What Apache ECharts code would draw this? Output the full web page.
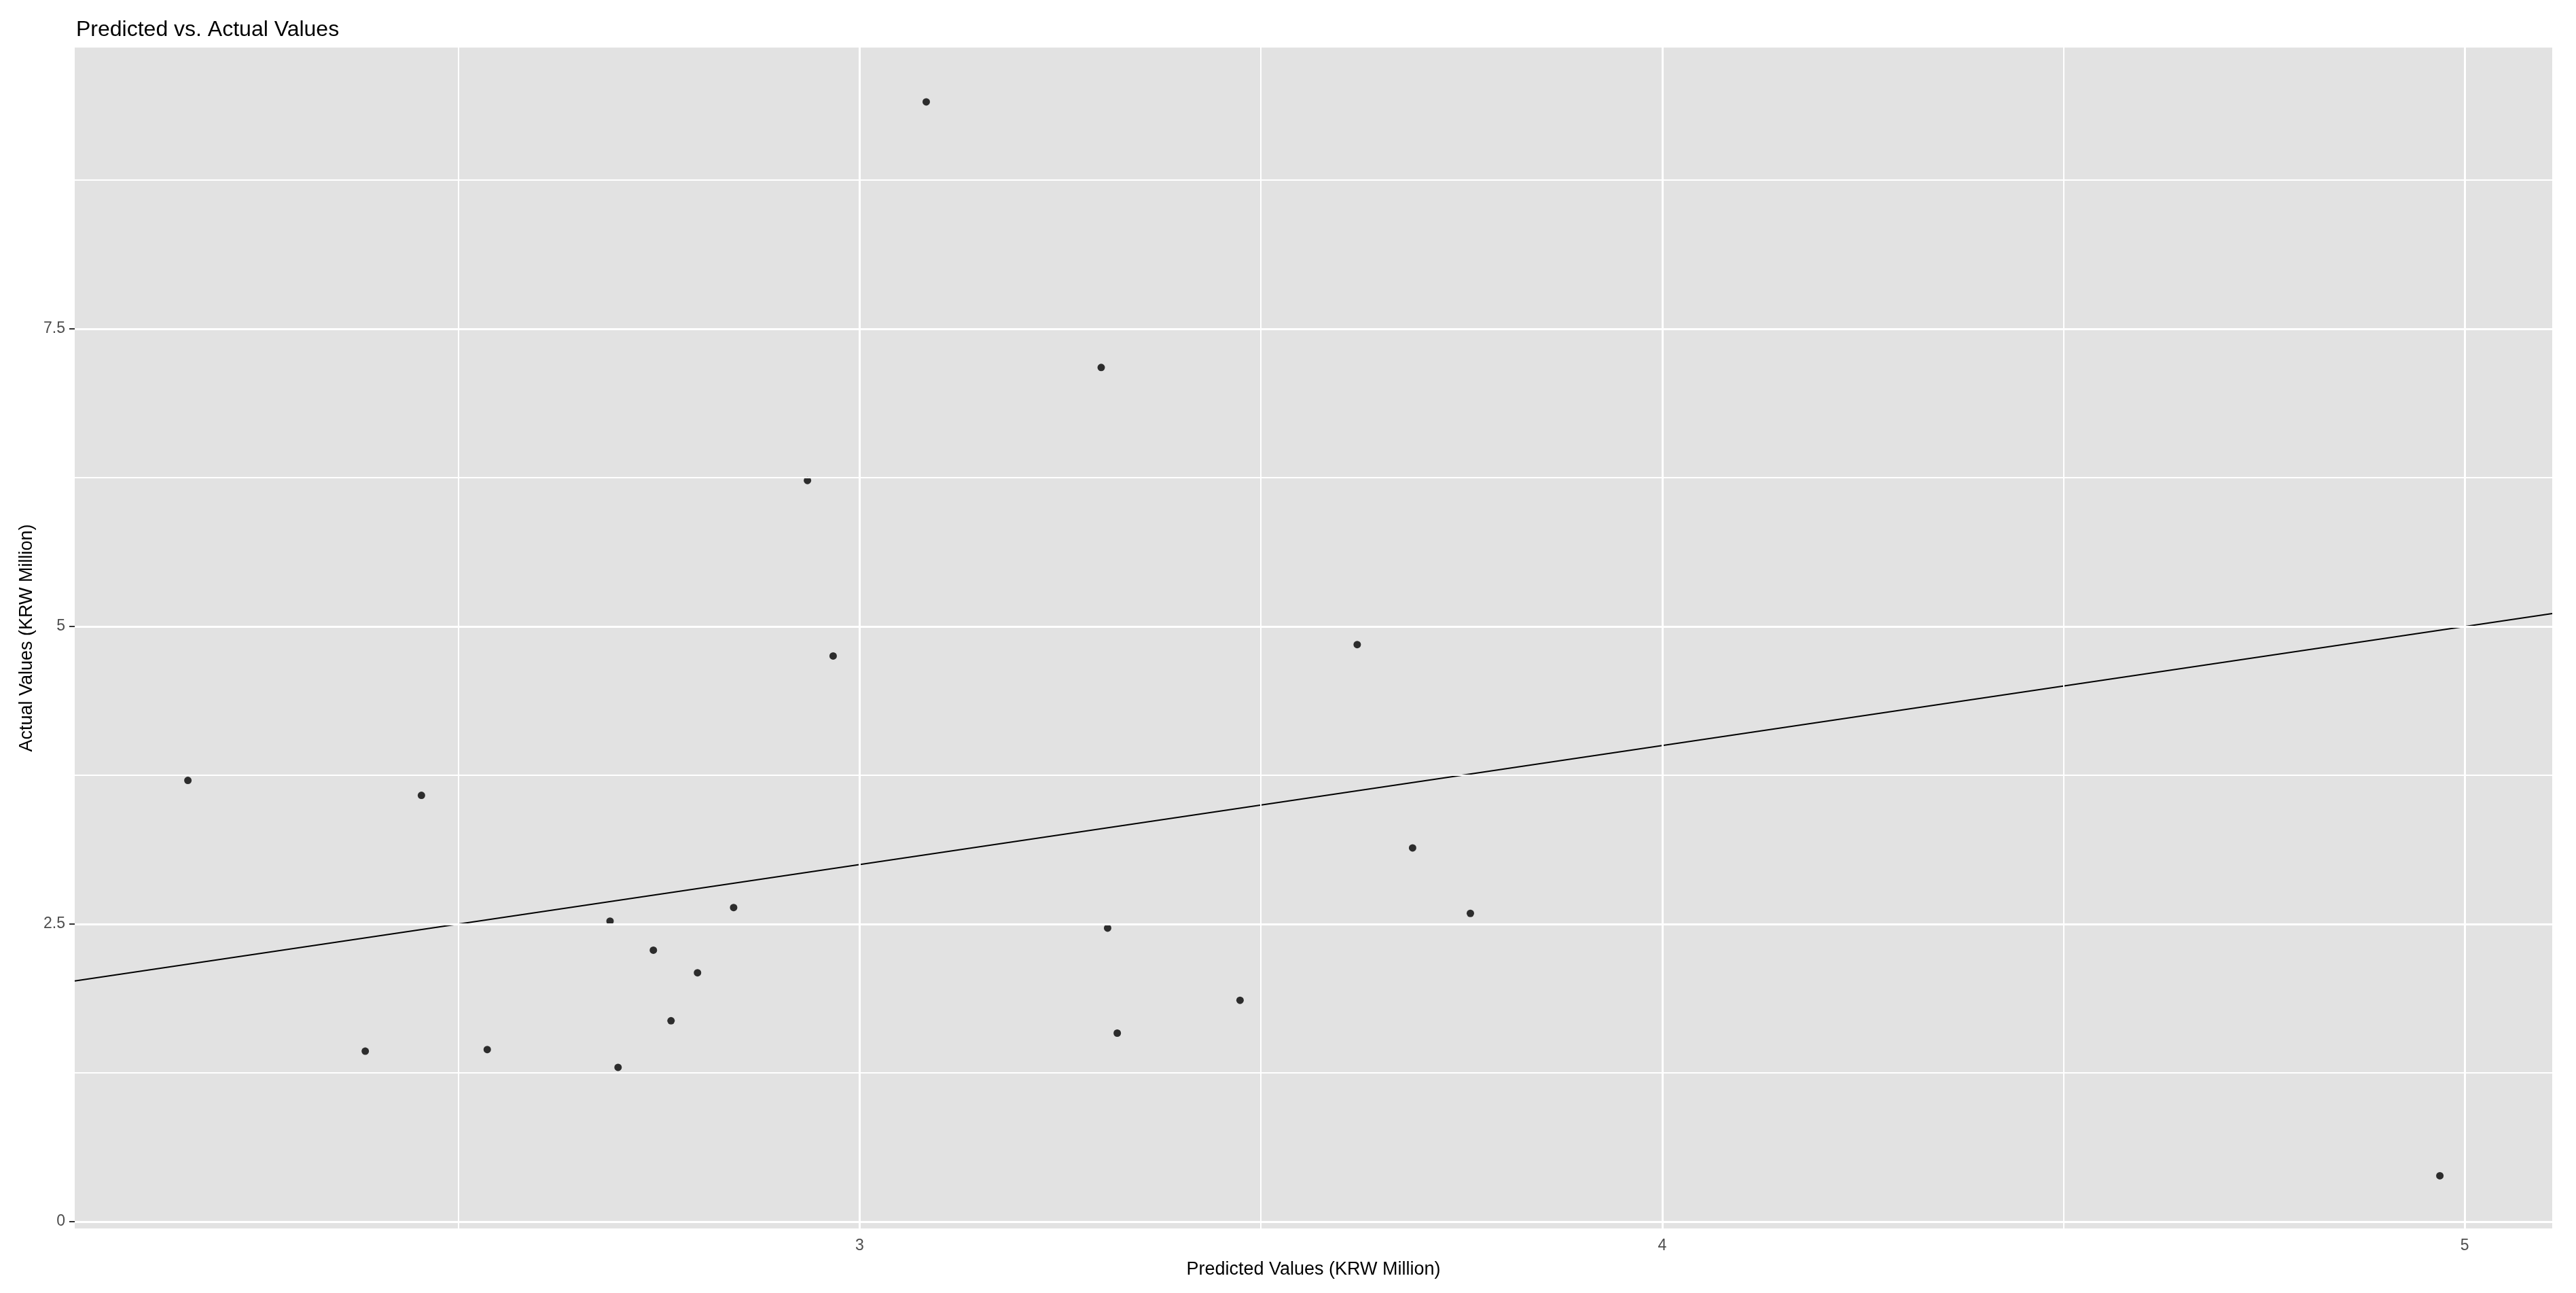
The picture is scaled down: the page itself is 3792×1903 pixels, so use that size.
<!DOCTYPE html>
<html>
<head>
<meta charset="utf-8">
<title>Predicted vs. Actual Values</title>
<script src="https://cdn.jsdelivr.net/npm/echarts@6.0.0/dist/echarts.min.js"></script>
<style>
  html, body { margin: 0; padding: 0; background: #ffffff; }
  #chart { width: 3792px; height: 1903px; }
</style>
</head>
<body>
<div id="chart"></div>
<script>
// values
var predicted = [2.163, 2.384, 2.454, 2.536, 2.689, 2.699, 2.743, 2.765, 2.798, 2.843, 2.935,
                 2.967, 3.083, 3.301, 3.309, 3.321, 3.474, 3.620, 3.689, 3.761, 4.969];
var actual    = [3.707, 1.432, 3.581, 1.446, 2.525, 1.296, 2.281, 1.688, 2.091, 2.639, 6.226,
                 4.752, 9.407, 7.176, 2.466, 1.584, 1.860, 4.848, 3.140, 2.590, 0.386];

// axis limits (ggplot's 5% expansion) and breaks
var xRange = [2.022, 5.109];
var yRange = [-0.057, 9.863];
var xBreaks = [3, 4, 5];
var xMinorBreaks = [2.5, 3.5, 4.5];
var yBreaks = [0, 2.5, 5, 7.5];
var yMinorBreaks = [1.25, 3.75, 6.25, 8.75];

// identity reference line y = x across the panel
var refLine = [[xRange[0], xRange[0]], [xRange[1], xRange[1]]];

var points = predicted.map(function (p, i) { return [p, actual[i]]; });

var FONT = '"Liberation Sans", Arial, sans-serif';

function gridLines(vals, key, width) {
    return vals.map(function (v) {
        var d = {};
        d[key] = v;
        d.lineStyle = { color: '#ffffff', width: width, type: 'solid' };
        return d;
    });
}

var chart = echarts.init(document.getElementById('chart'), null, { renderer: 'canvas' });
chart.setOption({
    animation: false,
    backgroundColor: '#ffffff',
    textStyle: { fontFamily: FONT },
    title: {
        text: 'Predicted vs. Actual Values',
        left: 112,
        top: 28,
        padding: 0,
        textStyle: { fontFamily: FONT, fontSize: 32, fontWeight: 'normal', color: '#000000' }
    },
    grid: {
        left: 110, top: 70, width: 3647, height: 1738,
        show: true, backgroundColor: '#e2e2e2', borderWidth: 0
    },
    xAxis: {
        type: 'value',
        min: xRange[0], max: xRange[1],
        name: 'Predicted Values (KRW Million)',
        nameLocation: 'middle',
        nameGap: 47,
        nameTextStyle: { fontFamily: FONT, fontSize: 27, color: '#000000' },
        axisLine: { show: false },
        axisTick: { show: true, length: 8, customValues: xBreaks, lineStyle: { color: '#333333', width: 2 } },
        axisLabel: { customValues: xBreaks, margin: 14, fontFamily: FONT, fontSize: 23, color: '#4d4d4d' },
        splitLine: { show: false }
    },
    yAxis: {
        type: 'value',
        min: yRange[0], max: yRange[1],
        name: 'Actual Values (KRW Million)',
        nameLocation: 'middle',
        nameGap: 48,
        nameTextStyle: { fontFamily: FONT, fontSize: 27, color: '#000000' },
        axisLine: { show: false },
        axisTick: { show: true, length: 8, customValues: yBreaks, lineStyle: { color: '#333333', width: 2 } },
        axisLabel: { customValues: yBreaks, margin: 14, fontFamily: FONT, fontSize: 23, color: '#4d4d4d' },
        splitLine: { show: false }
    },
    series: [
        {
            // panel grid lines
            type: 'line',
            data: [],
            z: 1,
            silent: true,
            markLine: {
                silent: true,
                symbol: ['none', 'none'],
                label: { show: false },
                animation: false,
                data: []
                    .concat(gridLines(xMinorBreaks, 'xAxis', 2))
                    .concat(gridLines(yMinorBreaks, 'yAxis', 2))
                    .concat(gridLines(xBreaks, 'xAxis', 3))
                    .concat(gridLines(yBreaks, 'yAxis', 3))
            }
        },
        {
            type: 'line',
            data: refLine,
            z: 2,
            symbol: 'none',
            silent: true,
            lineStyle: { color: '#000000', width: 2 }
        },
        {
            type: 'scatter',
            data: points,
            z: 3,
            symbol: 'circle',
            symbolSize: 11,
            itemStyle: { color: '#000000' }
        }
    ]
});
window.onresize = chart.resize;
</script>
</body>
</html>
